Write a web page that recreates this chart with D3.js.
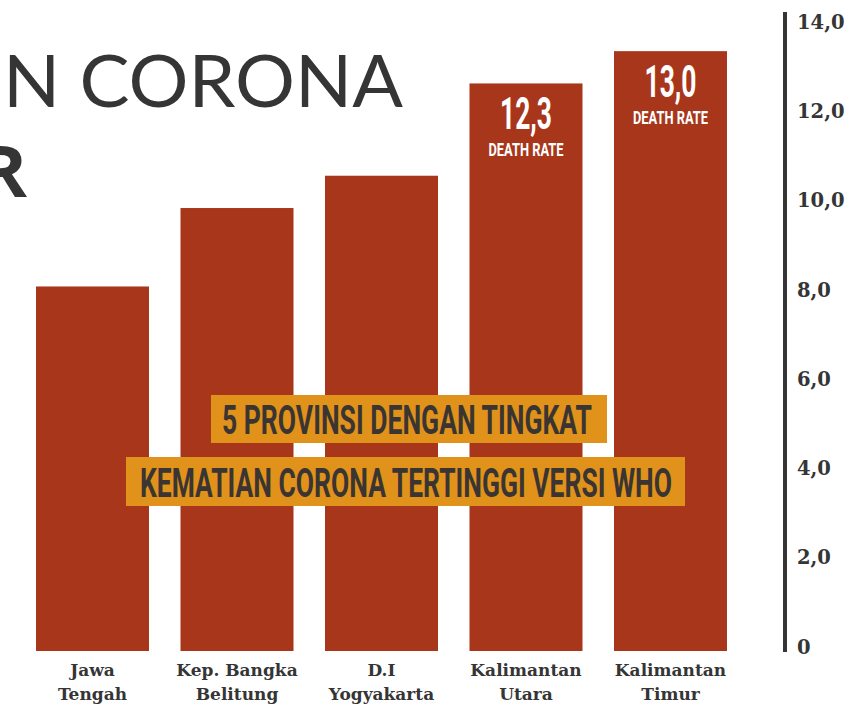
<!DOCTYPE html>
<html>
<head>
<meta charset="utf-8">
<script src="https://cdn.jsdelivr.net/npm/d3@7"></script>
<style>
  html, body { margin: 0; padding: 0; background: #fff; overflow: hidden; }
  svg { display: block; }
</style>
</head>
<body>
<div id="chart"></div>
<script>
// data
const provinces = [["Jawa", "Tengah"], ["Kep. Bangka", "Belitung"], ["D.I", "Yogyakarta"], ["Kalimantan", "Utara"], ["Kalimantan", "Timur"]];
const deathRates = [7.9, 9.6, 10.3, 12.3, 13.0];
const labelled = [false, false, false, true, true];
const axisTicks = [0, 2, 4, 6, 8, 10, 12, 14];
const bannerLines = ["5 PROVINSI DENGAN TINGKAT", "KEMATIAN CORONA TERTINGGI VERSI WHO"];

const width = 855, height = 706;
const barColor = "#a8361b";
const dark = "#353535";

const svg = d3.select("#chart").append("svg")
  .attr("width", width)
  .attr("height", height);

// judul di belakang (terpotong di kiri)
svg.append("text")
  .attr("x", 3).attr("y", 107)
  .attr("font-family", "Lato, 'Open Sans', sans-serif")
  .attr("font-weight", 400)
  .attr("font-size", 72)
  .attr("textLength", 400)
  .attr("lengthAdjust", "spacingAndGlyphs")
  .attr("fill", dark)
  .text("N CORONA");

svg.append("text")
  .attr("x", 27).attr("y", 197)
  .attr("text-anchor", "end")
  .attr("font-family", "'Open Sans', Lato, sans-serif")
  .attr("font-weight", 700)
  .attr("font-size", 72)
  .attr("fill", dark)
  .text("R");

// skala
const x = d3.scaleBand()
  .domain(d3.range(provinces.length))
  .range([36, 727])
  .paddingInner(0.218)
  .paddingOuter(0);

const y = d3.scaleLinear().domain([0, 14]).range([651, 5]);
const yAxis = d3.scaleLinear().domain([0, 14]).range([647, 22]);

// batang
svg.selectAll(".bar")
  .data(deathRates)
  .enter()
  .append("rect")
  .attr("class", "bar")
  .attr("x", (d, i) => x(i))
  .attr("y", d => y(d))
  .attr("width", x.bandwidth())
  .attr("height", d => y(0) - y(d))
  .attr("fill", barColor);

// label death rate
const lab = svg.selectAll(".rate")
  .data(deathRates.map((d, i) => ({ v: d, i })).filter(d => labelled[d.i]))
  .enter()
  .append("g")
  .attr("class", "rate")
  .attr("transform", d => `translate(${x(d.i) + x.bandwidth() / 2},${y(d.v)})`);

lab.append("text")
  .attr("y", 46)
  .attr("text-anchor", "middle")
  .attr("font-family", "Roboto, sans-serif")
  .attr("font-weight", 700)
  .attr("font-size", 45)
  .attr("textLength", 52)
  .attr("lengthAdjust", "spacingAndGlyphs")
  .attr("fill", "#fff")
  .text(d => d.v.toFixed(1).replace(".", ","));

lab.append("text")
  .attr("y", 73)
  .attr("text-anchor", "middle")
  .attr("font-family", "Roboto, sans-serif")
  .attr("font-weight", 700)
  .attr("font-size", 18)
  .attr("textLength", 75)
  .attr("lengthAdjust", "spacingAndGlyphs")
  .attr("fill", "#fff")
  .text("DEATH RATE");

// label provinsi
const names = svg.selectAll(".prov")
  .data(provinces)
  .enter()
  .append("text")
  .attr("class", "prov")
  .attr("x", (d, i) => x(i) + x.bandwidth() / 2)
  .attr("y", 676)
  .attr("text-anchor", "middle")
  .attr("font-family", "'DejaVu Serif', serif")
  .attr("font-weight", 700)
  .attr("font-size", 17)
  .attr("fill", dark);

names.each(function(d) {
  const t = d3.select(this);
  d.forEach((line, j) => {
    t.append("tspan")
      .attr("x", t.attr("x"))
      .attr("dy", j === 0 ? 0 : 24)
      .text(line);
  });
});

// sumbu kanan
svg.append("line")
  .attr("x1", 785).attr("x2", 785)
  .attr("y1", 12).attr("y2", y(0) + 1)
  .attr("stroke", dark)
  .attr("stroke-width", 4);

const ax = svg.append("g")
  .attr("transform", "translate(785,0)")
  .call(d3.axisRight(yAxis)
    .tickValues(axisTicks)
    .tickSize(0)
    .tickPadding(12)
    .tickFormat(d => d === 0 ? "0" : d.toFixed(1).replace(".", ",")));

ax.select(".domain").remove();
ax.selectAll("text")
  .attr("font-family", "'DejaVu Serif', serif")
  .attr("font-weight", 700)
  .attr("font-size", 19.5)
  .attr("fill", dark);

// banner judul
const banners = [
  { x: 211, y: 395, w: 396, h: 48, tx: 222, tw: 370, base: 434 },
  { x: 126, y: 457, w: 559, h: 49, tx: 140, tw: 532, base: 497 }
];

banners.forEach((b, i) => {
  svg.append("rect")
    .attr("x", b.x).attr("y", b.y)
    .attr("width", b.w).attr("height", b.h)
    .attr("fill", "#e0921a");
  svg.append("text")
    .attr("x", b.tx).attr("y", b.base)
    .attr("font-family", "Roboto, sans-serif")
    .attr("font-weight", 700)
    .attr("font-size", 40)
    .attr("textLength", b.tw)
    .attr("lengthAdjust", "spacingAndGlyphs")
    .attr("fill", "#3a3532")
    .text(bannerLines[i]);
});
</script>
</body>
</html>
